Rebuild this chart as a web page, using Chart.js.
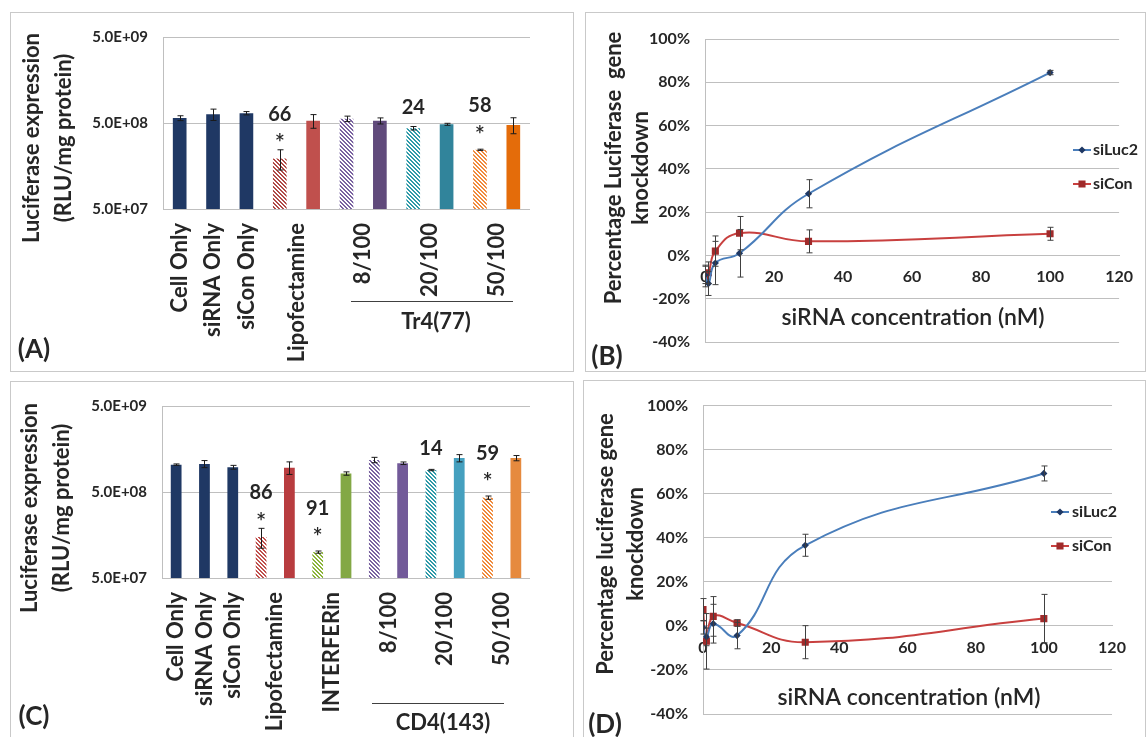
<!DOCTYPE html>
<html>
<head>
<meta charset="utf-8">
<title>Luciferase knockdown</title>
<script src="https://cdn.jsdelivr.net/npm/chart.js@4.4.1/dist/chart.umd.min.js"></script>
<style>
  html, body { margin: 0; padding: 0; background: #fff; }
  body { width: 1147px; height: 737px; position: relative; overflow: hidden; }
  .panel { position: absolute; border: 1px solid #c9c9c9; box-sizing: border-box; }
  .panel canvas { position: absolute; left: 0; top: 0; }
</style>
</head>
<body>
<div class="panel" style="left:10px;top:12px;width:564px;height:360px"><canvas id="chartA" width="562" height="358"></canvas></div>
<div class="panel" style="left:585px;top:12px;width:561px;height:360px"><canvas id="chartB" width="559" height="358"></canvas></div>
<div class="panel" style="left:10px;top:381px;width:564px;height:360px"><canvas id="chartC" width="562" height="358"></canvas></div>
<div class="panel" style="left:583px;top:380px;width:563px;height:360px"><canvas id="chartD" width="561" height="358"></canvas></div>

<script>
// ---- (A) Tr4(77) bars
const A_BARS = ["Cell Only", "siRNA Only", "siCon Only", "Lipofectamine siLuc2", "Lipofectamine siCon",
  "8/100 siLuc2", "8/100 siCon", "20/100 siLuc2", "20/100 siCon", "50/100 siLuc2", "50/100 siCon"];
const A_VALUES = [5.7e8, 6.3e8, 6.5e8, 1.93e8, 5.3e8, 5.6e8, 5.3e8, 4.35e8, 4.83e8, 2.44e8, 4.75e8];
const A_ERRORS = [0.37e8, 0.95e8, 0.29e8, 0.51e8, 0.96e8, 0.41e8, 0.43e8, 0.2e8, 0.13e8, 0.04e8, 1.0e8];
const A_KNOCKDOWN = ["", "", "", "66", "", "", "", "24", "", "58", ""];
const A_SIGNIF = [0, 0, 0, 1, 0, 0, 0, 0, 0, 1, 0];
const A_LABELS = ["Cell Only", "siRNA Only", "siCon Only", "Lipofectamine", "8/100", "20/100", "50/100"];
const A_LABEL_AT = [0, 1, 2, 3.5, 5.5, 7.5, 9.5];

// ---- (C) CD4(143) bars
const C_BARS = ["Cell Only", "siRNA Only", "siCon Only", "Lipofectamine siLuc2", "Lipofectamine siCon",
  "INTERFERin siLuc2", "INTERFERin siCon", "8/100 siLuc2", "8/100 siCon", "20/100 siLuc2", "20/100 siCon",
  "50/100 siLuc2", "50/100 siCon"];
const C_VALUES = [1.04e9, 1.06e9, 0.97e9, 1.5e8, 0.96e9, 1.0e8, 8.2e8, 1.18e9, 1.08e9, 9.0e8, 1.24e9, 4.3e8, 1.24e9];
const C_ERRORS = [0.02e9, 0.10e9, 0.05e9, 0.39e8, 0.16e9, 0.03e8, 0.37e8, 0.085e9, 0.037e9, 0.16e8, 0.12e9, 0.19e8, 0.087e9];
const C_KNOCKDOWN = ["", "", "", "86", "", "91", "", "", "", "14", "", "59", ""];
const C_SIGNIF = [0, 0, 0, 1, 0, 1, 0, 0, 0, 0, 0, 1, 0];
const C_LABELS = ["Cell Only", "siRNA Only", "siCon Only", "Lipofectamine", "INTERFERin", "8/100", "20/100", "50/100"];
const C_LABEL_AT = [0, 1, 2, 3.5, 5.5, 7.5, 9.5, 11.5];

const LOG_TICKS = [5e7, 5e8, 5e9];
const LOG_TICK_LABELS = ["5.0E+07", "5.0E+08", "5.0E+09"];

// ---- (B) / (D) knockdown vs concentration
const CONC = [0, 1, 3, 10, 30, 100];
const B_LUC = [-9, -13, -3.5, 1, 28.5, 84.5];
const B_LUC_ERR = [4, 5.5, 10, 11, 6.5, 1];
const B_CON = [-9.5, -8, 2, 10.3, 6.5, 10];
const B_CON_ERR = [5, 5, 7, 7.7, 5.3, 3];
const D_LUC = [-0.7, -5, 1, -4.4, 36.6, 69.2];
const D_LUC_ERR = [3, 4, 8.8, 6, 5, 3.4];
const D_CON = [7.4, -7, 4.3, 1.3, -7.4, 3.3];
const D_CON_ERR = [5, 12.6, 9, 1.5, 7.5, 11];

Chart.defaults.font.family = "Lato, 'Open Sans', sans-serif";
Chart.defaults.color = "#262626";
Chart.defaults.animation = false;

const INK = "#262626";
const GRID = "#bfbfbf";
const NAVY = "#1f3864";

function hatch(ctx, color) {
  const c = document.createElement("canvas");
  c.width = 4; c.height = 4;
  const g = c.getContext("2d");
  g.fillStyle = "#fff"; g.fillRect(0, 0, 4, 4);
  g.fillStyle = color;
  for (let y = 0; y < 4; y++)
    for (let x = 0; x < 4; x++)
      if (((x - y) % 4 + 4) % 4 < 2) g.fillRect(x, y, 1, 1);
  return ctx.createPattern(c, "repeat");
}

function rotText(ctx, text, x, y, font, align) {
  ctx.save();
  ctx.translate(x, y);
  ctx.rotate(-Math.PI / 2);
  ctx.font = font;
  ctx.fillStyle = INK;
  ctx.textAlign = align;
  ctx.textBaseline = "middle";
  ctx.fillText(text, 0, 0);
  ctx.restore();
}

function flatText(ctx, text, x, y, font) {
  ctx.font = font;
  ctx.fillStyle = INK;
  ctx.textAlign = "center";
  ctx.textBaseline = "middle";
  ctx.fillText(text, x, y);
}

function errorBar(c, x, hi, lo, cap) {
  c.beginPath();
  c.moveTo(x, hi); c.lineTo(x, lo);
  c.moveTo(x - cap, hi); c.lineTo(x + cap, hi);
  c.moveTo(x - cap, lo); c.lineTo(x + cap, lo);
  c.stroke();
}

// p: panel description, positions given in page pixels (ox, oy = canvas origin)
function makeBarPanel(p) {
  const canvas = document.getElementById(p.id);
  const W = canvas.width, H = canvas.height;
  const fills = p.styles.map(s => s.hatch ? hatch(canvas.getContext("2d"), s.color) : s.color);
  const X = v => v - p.ox, Y = v => v - p.oy;

  const extras = {
    id: "extras",
    afterDatasetsDraw(chart) {
      const c = chart.ctx, ys = chart.scales.y, bars = chart.getDatasetMeta(0).data;
      c.save();
      c.strokeStyle = "#1a1a1a";
      c.lineWidth = 1;
      p.values.forEach((v, i) => {
        const x = Math.round(bars[i].x) + 0.5;
        errorBar(c, x, ys.getPixelForValue(v + p.errors[i]), ys.getPixelForValue(v - p.errors[i]), 3);
      });
      p.knockdown.forEach((t, i) => {
        if (!t) return;
        const top = bars[i].y;
        if (p.signif[i]) {
          flatText(c, "*", bars[i].x, top - 14, "600 24px Lato");
          flatText(c, t, bars[i].x, top - 44, "bold 20px Lato");
        } else {
          flatText(c, t, bars[i].x, top - 21, "bold 20px Lato");
        }
      });
      c.restore();
    },
    afterDraw(chart) {
      const c = chart.ctx, xs = chart.scales.x, area = chart.chartArea;
      c.save();
      p.labels.forEach((t, i) => {
        rotText(c, t, xs.getPixelForValue(p.labelAt[i]), area.bottom + 14, "bold 22px Lato", "right");
      });
      // group bracket under the formulation labels
      c.strokeStyle = "#404040";
      c.lineWidth = 1;
      c.beginPath();
      c.moveTo(X(p.group.x1), Y(p.group.y) + 0.5);
      c.lineTo(X(p.group.x2), Y(p.group.y) + 0.5);
      c.stroke();
      flatText(c, p.group.text, X(p.group.tx), Y(p.group.ty), "bold 22px Lato");
      // axis title and panel letter
      rotText(c, "Luciferase expression", X(p.title.x1), Y(p.title.y), "bold 22px Lato", "center");
      rotText(c, "(RLU/mg protein)", X(p.title.x2), Y(p.title.y), "bold 22px Lato", "center");
      flatText(c, p.letter.text, X(p.letter.x), Y(p.letter.y), "bold 26px Lato");
      c.restore();
    }
  };

  return new Chart(canvas, {
    type: "bar",
    data: {
      labels: p.bars,
      datasets: [{
        data: p.values,
        backgroundColor: fills,
        borderWidth: 0,
        categoryPercentage: 1,
        barPercentage: p.barPct
      }]
    },
    options: {
      responsive: false,
      animation: false,
      layout: {
        autoPadding: false,
        padding: { top: Y(p.area.top), right: W - X(p.area.right), left: 0, bottom: 0 }
      },
      plugins: { legend: { display: false }, tooltip: { enabled: false } },
      scales: {
        x: {
          grid: { display: false },
          border: { display: false },
          ticks: { display: false },
          afterFit: s => { s.height = H - Y(p.area.bottom); }
        },
        y: {
          type: "logarithmic",
          min: LOG_TICKS[0],
          max: LOG_TICKS[LOG_TICKS.length - 1],
          afterBuildTicks: s => { s.ticks = LOG_TICKS.map(v => ({ value: v })); },
          ticks: {
            callback: (v, i) => LOG_TICK_LABELS[i],
            font: { size: 15, weight: "bold" },
            color: INK,
            padding: 15
          },
          grid: { color: GRID, drawTicks: false },
          border: { color: GRID },
          afterFit: s => { s.width = X(p.area.left); }
        }
      }
    },
    plugins: [extras]
  });
}

function makeLinePanel(p) {
  const canvas = document.getElementById(p.id);
  const W = canvas.width, H = canvas.height;
  const X = v => v - p.ox, Y = v => v - p.oy;
  const series = [
    { label: "siLuc2", y: p.luc, err: p.lucErr, line: "#4a7ebb", mark: NAVY, style: "rectRot", r: 2.2 },
    { label: "siCon", y: p.con, err: p.conErr, line: "#c8403f", mark: "#a02b2b", style: "rect", r: 3.6 }
  ];

  const extras = {
    id: "extras",
    afterDatasetsDraw(chart) {
      const c = chart.ctx, xs = chart.scales.x, ys = chart.scales.y;
      c.save();
      c.strokeStyle = "#404040";
      c.lineWidth = 1;
      series.forEach(s => {
        CONC.forEach((x, i) => {
          const px = Math.round(xs.getPixelForValue(x)) + 0.5;
          errorBar(c, px, ys.getPixelForValue(s.y[i] + s.err[i]), ys.getPixelForValue(s.y[i] - s.err[i]), 3);
        });
      });
      c.restore();
    },
    afterDraw(chart) {
      const c = chart.ctx;
      c.save();
      // legend
      series.forEach((s, i) => {
        const y = Y(p.legend.y[i]);
        c.strokeStyle = s.line;
        c.lineWidth = 2;
        c.beginPath();
        c.moveTo(X(p.legend.x1), y); c.lineTo(X(p.legend.x2), y);
        c.stroke();
        c.fillStyle = s.mark;
        c.strokeStyle = s.mark;
        Chart.helpers.drawPoint(c, { pointStyle: s.style, radius: s.r, borderWidth: 1 }, X((p.legend.x1 + p.legend.x2) / 2), y);
        c.font = "bold 16px Lato";
        c.fillStyle = INK;
        c.textAlign = "left";
        c.textBaseline = "middle";
        c.fillText(s.label, X(p.legend.tx), y);
      });
      rotText(c, p.title.l1, X(p.title.x1), Y(p.title.y), "bold 22px Lato", "center");
      rotText(c, "knockdown", X(p.title.x2), Y(p.title.y), "bold 22px Lato", "center");
      flatText(c, "siRNA concentration (nM)", X(p.xTitle.x), Y(p.xTitle.y), "600 23px Lato");
      flatText(c, p.letter.text, X(p.letter.x), Y(p.letter.y), "bold 26px Lato");
      c.restore();
    }
  };

  return new Chart(canvas, {
    type: "line",
    data: {
      datasets: series.map(s => ({
        label: s.label,
        data: CONC.map((x, i) => ({ x: x, y: s.y[i] })),
        borderColor: s.line,
        borderWidth: 2,
        tension: 0.45,
        fill: false,
        pointStyle: s.style,
        pointRadius: s.r,
        pointBackgroundColor: s.mark,
        pointBorderColor: s.mark
      }))
    },
    options: {
      responsive: false,
      animation: false,
      layout: {
        autoPadding: false,
        padding: { top: Y(p.area.top), right: W - X(p.area.right), left: 0, bottom: H - Y(p.area.bottom) }
      },
      plugins: { legend: { display: false }, tooltip: { enabled: false } },
      scales: {
        x: {
          type: "linear",
          min: 0,
          max: 120,
          position: { y: 0 },
          ticks: { stepSize: 20, font: { size: 16, weight: "bold" }, color: INK, padding: 12, maxRotation: 0 },
          grid: { display: false, drawTicks: false },
          border: { color: GRID }
        },
        y: {
          min: -40,
          max: 100,
          ticks: { stepSize: 20, callback: v => v + "%", font: { size: 16, weight: "bold" }, color: INK, padding: 15 },
          grid: { color: GRID, drawTicks: false },
          border: { color: GRID },
          afterFit: s => { s.width = X(p.area.left); }
        }
      }
    },
    plugins: [extras]
  });
}

const NAVY_BAR = { color: "#1f3864" };

makeBarPanel({
  id: "chartA", ox: 11, oy: 13,
  bars: A_BARS, values: A_VALUES, errors: A_ERRORS,
  knockdown: A_KNOCKDOWN, signif: A_SIGNIF, labels: A_LABELS, labelAt: A_LABEL_AT,
  styles: [NAVY_BAR, NAVY_BAR, NAVY_BAR,
    { color: "#b04a47", hatch: true }, { color: "#c0504d" },
    { color: "#7a63a0", hatch: true }, { color: "#604a7b" },
    { color: "#2f9aa8", hatch: true }, { color: "#31849b" },
    { color: "#f08a3c", hatch: true }, { color: "#e46c0a" }],
  barPct: 0.41,
  area: { left: 163, right: 530, top: 32, bottom: 209 },
  group: { text: "Tr4(77)", x1: 351, x2: 513, y: 301, tx: 436, ty: 322 },
  title: { x1: 32, x2: 64, y: 138 },
  letter: { text: "(A)", x: 34, y: 350 }
});

makeBarPanel({
  id: "chartC", ox: 11, oy: 382,
  bars: C_BARS, values: C_VALUES, errors: C_ERRORS,
  knockdown: C_KNOCKDOWN, signif: C_SIGNIF, labels: C_LABELS, labelAt: C_LABEL_AT,
  styles: [NAVY_BAR, NAVY_BAR, NAVY_BAR,
    { color: "#c0504d", hatch: true }, { color: "#b83c3f" },
    { color: "#8cb43a", hatch: true }, { color: "#83a845" },
    { color: "#7a63a0", hatch: true }, { color: "#725a99" },
    { color: "#2f9aa8", hatch: true }, { color: "#45a0bf" },
    { color: "#f08a3c", hatch: true }, { color: "#e68a3e" }],
  barPct: 0.38,
  area: { left: 162, right: 530, top: 400, bottom: 578 },
  group: { text: "CD4(143)", x1: 372, x2: 504, y: 703, tx: 443, ty: 723 },
  title: { x1: 30, x2: 62, y: 508 },
  letter: { text: "(C)", x: 34, y: 717 }
});

makeLinePanel({
  id: "chartB", ox: 586, oy: 13,
  luc: B_LUC, lucErr: B_LUC_ERR, con: B_CON, conErr: B_CON_ERR,
  area: { left: 705, right: 1122, top: 39, bottom: 342 },
  legend: { x1: 1073, x2: 1091, tx: 1093, y: [150, 184] },
  title: { l1: "Percentage Luciferase  gene", x1: 614, x2: 641, y: 168 },
  xTitle: { x: 913, y: 318 },
  letter: { text: "(B)", x: 607, y: 357 }
});

makeLinePanel({
  id: "chartD", ox: 584, oy: 381,
  luc: D_LUC, lucErr: D_LUC_ERR, con: D_CON, conErr: D_CON_ERR,
  area: { left: 703, right: 1112, top: 399, bottom: 714 },
  legend: { x1: 1051, x2: 1069, tx: 1072, y: [512, 546] },
  title: { l1: "Percentage luciferase gene", x1: 606, x2: 636, y: 544 },
  xTitle: { x: 909, y: 698 },
  letter: { text: "(D)", x: 605, y: 725 }
});
</script>
</body>
</html>
